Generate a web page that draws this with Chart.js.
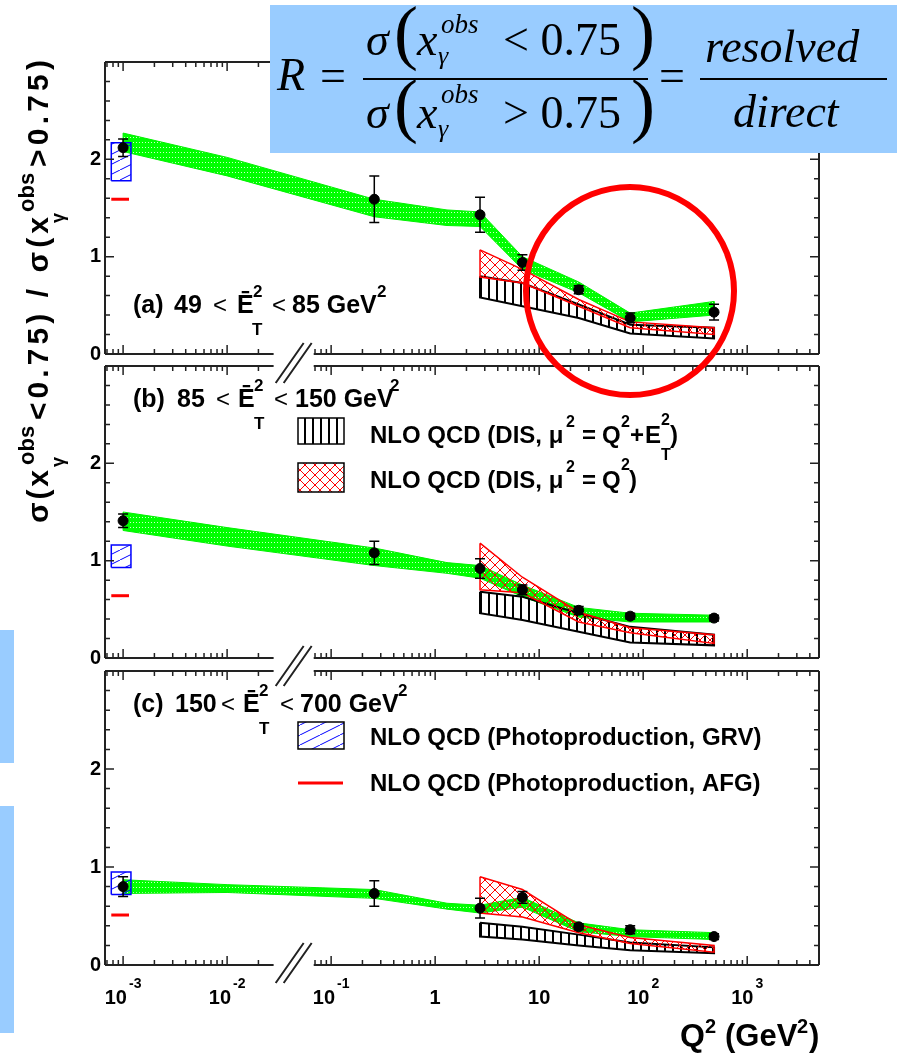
<!DOCTYPE html>
<html>
<head>
<meta charset="utf-8">
<script src="https://cdn.jsdelivr.net/npm/chart.js@4.4.1/dist/chart.umd.min.js"></script>
<style>
  body { margin: 0; background: #fff; width: 897px; height: 1057px; position: relative; overflow: hidden; }
  canvas.panel { position: absolute; left: 0; }
  #overlay { position: absolute; left: 0; top: 0; pointer-events: none; }
</style>
</head>
<body>
<canvas id="pa" class="panel" width="897" height="360" style="top:30px"></canvas>
<canvas id="pb" class="panel" width="897" height="350" style="top:340px"></canvas>
<canvas id="pc" class="panel" width="897" height="412" style="top:645px"></canvas>

<svg id="overlay" width="897" height="1057">
  <!-- light blue slide strips on the left -->
  <rect x="0" y="630" width="14" height="133" fill="#99ccff"/>
  <rect x="0" y="806" width="14" height="227" fill="#99ccff"/>

  <!-- y axis title -->
  <g transform="translate(48,523) rotate(-90)" font-family="Liberation Sans, Arial, sans-serif" font-weight="bold" font-size="30" fill="#000">
    <text x="0" y="0" textLength="53" lengthAdjust="spacing">σ(x</text>
    <text x="58" y="-14" font-size="22">obs</text>
    <text x="56" y="16" font-size="18">γ</text>
    <text x="103" y="0" textLength="203" lengthAdjust="spacing">&lt;0.75) / σ(x</text>
    <text x="311" y="-14" font-size="22">obs</text>
    <text x="300" y="16" font-size="18">γ</text>
    <text x="356" y="0" textLength="107" lengthAdjust="spacing">&gt;0.75)</text>
  </g>

  <!-- formula box -->
  <rect x="270" y="5" width="627" height="148" fill="#99ccff"/>
  <g font-family="Liberation Serif, Times New Roman, serif" font-size="46" fill="#000">
    <text x="277" y="90" font-style="italic">R</text>
    <text x="320" y="91">=</text>
    <line x1="363" y1="79" x2="648" y2="79" stroke="#000" stroke-width="2"/>
    <text x="366" y="55" font-style="italic">σ</text>
    <text x="394" y="56" font-size="72">(</text>
    <text x="417" y="55" font-style="italic">x</text>
    <text x="441" y="33" font-size="27" font-style="italic">obs</text>
    <text x="438" y="64" font-size="26" font-style="italic">γ</text>
    <text x="503" y="55">&lt; 0.75</text>
    <text x="631" y="56" font-size="72">)</text>
    <text x="366" y="128" font-style="italic">σ</text>
    <text x="394" y="129" font-size="72">(</text>
    <text x="417" y="128" font-style="italic">x</text>
    <text x="441" y="103" font-size="27" font-style="italic">obs</text>
    <text x="438" y="137" font-size="26" font-style="italic">γ</text>
    <text x="503" y="128">&gt; 0.75</text>
    <text x="631" y="129" font-size="72">)</text>
    <text x="659" y="91">=</text>
    <line x1="700" y1="79" x2="887" y2="79" stroke="#000" stroke-width="2"/>
    <text x="705" y="62" font-style="italic">resolved</text>
    <text x="733" y="127" font-style="italic">direct</text>
  </g>

  <!-- red circle -->
  <circle cx="630" cy="291" r="104" fill="none" stroke="#ff0000" stroke-width="6"/>
</svg>

<script>
Chart.defaults.font.family = '"Liberation Sans", Arial, sans-serif';
Chart.defaults.color = '#000';

// axis range (log Q2) and the broken part of the axis
const xMin = 6.7e-4, xMax = 4.9e3;
const breakLo = 0.028, breakHi = 0.068;

// measured points (Q2 in GeV2), same bins in every panel
const qPts = [0.001, 0.26, 2.7, 6.9, 24, 75, 480];
const ratioA = [2.12, 1.59, 1.43, 0.94, 0.66, 0.37, 0.43];
const errA = [0.09, 0.24, 0.18, 0.08, 0.04, 0.05, 0.08];
const ratioB = [1.41, 1.08, 0.92, 0.70, 0.49, 0.43, 0.41];
const errB = [0.07, 0.12, 0.1, 0.05, 0.04, 0.03, 0.03];
const ratioC = [0.80, 0.73, 0.58, 0.69, 0.39, 0.36, 0.29];
const errC = [0.1, 0.13, 0.1, 0.06, 0.03, 0.04, 0.03];

// green band (data-like band)
const greenQ = [0.001, 0.01, 0.26, 1.3, 2.7, 6.9, 24, 75, 480];
const greenLoA = [2.08, 1.83, 1.41, 1.32, 1.31, 0.87, 0.63, 0.33, 0.40];
const greenHiA = [2.27, 2.02, 1.59, 1.48, 1.46, 1.00, 0.74, 0.42, 0.54];
const greenLoB = [1.31, 1.15, 0.95, 0.87, 0.82, 0.63, 0.42, 0.37, 0.37];
const greenHiB = [1.50, 1.34, 1.13, 0.98, 0.95, 0.75, 0.52, 0.46, 0.44];
const greenLoC = [0.73, 0.74, 0.68, 0.57, 0.53, 0.59, 0.34, 0.29, 0.26];
const greenHiC = [0.87, 0.82, 0.77, 0.63, 0.61, 0.69, 0.43, 0.36, 0.33];

// NLO DIS bands
const nloQ = [2.7, 6.9, 24, 75, 480];
const redLoA = [0.79, 0.73, 0.49, 0.27, 0.20];
const redHiA = [1.07, 0.87, 0.56, 0.33, 0.27];
const blackLoA = [0.58, 0.49, 0.37, 0.21, 0.16];
const blackHiA = [0.80, 0.73, 0.51, 0.30, 0.27];
const redLoB = [0.70, 0.67, 0.37, 0.26, 0.15];
const redHiB = [1.18, 0.83, 0.47, 0.31, 0.24];
const blackLoB = [0.46, 0.39, 0.27, 0.16, 0.13];
const blackHiB = [0.68, 0.63, 0.46, 0.32, 0.24];
const redLoC = [0.53, 0.49, 0.33, 0.22, 0.13];
const redHiC = [0.90, 0.77, 0.41, 0.28, 0.20];
const blackLoC = [0.29, 0.26, 0.20, 0.15, 0.12];
const blackHiC = [0.43, 0.39, 0.31, 0.23, 0.18];

// photoproduction predictions, drawn at Q2 ~ 1e-3
const grvQ = [7.7e-4, 1.19e-3];
const afgQ = [7.7e-4, 1.14e-3];
const grvA = [1.78, 2.17], grvB = [0.93, 1.16], grvC = [0.72, 0.95];
const afgA = 1.59, afgB = 0.64, afgC = 0.51;

// fill patterns
function tile(w, h, paint) {
  const c = document.createElement('canvas');
  c.width = w; c.height = h;
  const g = c.getContext('2d');
  paint(g);
  return g.createPattern(c, 'repeat');
}
const greenFill = tile(6, 5, g => {
  g.fillStyle = '#00ff00'; g.fillRect(0, 0, 6, 5);
  g.fillStyle = 'rgba(255,255,255,0.8)'; g.fillRect(1, 2, 1, 1); g.fillRect(4, 2, 1, 1);
});
const blackHatch = tile(8, 8, g => { g.fillStyle = '#000'; g.fillRect(0, 0, 2, 8); });
const redHatch = tile(10, 10, g => {
  g.strokeStyle = '#ff0000'; g.lineWidth = 1;
  g.beginPath(); g.moveTo(0, 0); g.lineTo(10, 10); g.moveTo(10, 0); g.lineTo(0, 10); g.stroke();
});
const blueHatch = tile(20, 10, g => {
  g.strokeStyle = '#0000ff'; g.lineWidth = 1;
  g.beginPath(); g.moveTo(0, 10); g.lineTo(20, 0); g.stroke();
});
const fills = { black: blackHatch, red: redHatch, blue: blueHatch };

// closed outline: upper edge forward, lower edge back
function poly(xs, lo, hi) {
  const pts = xs.map((x, i) => ({ x, y: hi[i] }));
  for (let i = xs.length - 1; i >= 0; i--) pts.push({ x: xs[i], y: lo[i] });
  pts.push(pts[0]);
  return pts;
}
function box(xs, ys) {
  return [{ x: xs[0], y: ys[0] }, { x: xs[0], y: ys[1] }, { x: xs[1], y: ys[1] },
          { x: xs[1], y: ys[0] }, { x: xs[0], y: ys[0] }];
}

function txt(ctx, s, x, y, size, weight) {
  ctx.font = (weight || 'bold') + ' ' + size + 'px "Liberation Sans", Arial, sans-serif';
  ctx.fillText(s, x, y);
}

// frame, inward ticks, axis break, error bars and the text of each panel
const framePlugin = {
  id: 'frame',
  afterDatasetsDraw(chart) {
    const ctx = chart.ctx, ys = chart.scales.y;
    chart.data.datasets.forEach((ds, i) => {
      if (!ds.errs) return;
      const meta = chart.getDatasetMeta(i);
      ctx.save();
      ctx.strokeStyle = '#000';
      ctx.lineWidth = 1.5;
      meta.data.forEach((pt, j) => {
        const v = ds.data[j].y, e = ds.errs[j];
        const y1 = ys.getPixelForValue(v + e), y2 = ys.getPixelForValue(v - e);
        ctx.beginPath();
        ctx.moveTo(pt.x, y1); ctx.lineTo(pt.x, y2);
        ctx.moveTo(pt.x - 5, y1); ctx.lineTo(pt.x + 5, y1);
        ctx.moveTo(pt.x - 5, y2); ctx.lineTo(pt.x + 5, y2);
        ctx.stroke();
      });
      ctx.restore();
    });
  },
  afterDraw(chart, args, opts) {
    const ctx = chart.ctx;
    const { left, right, top, bottom } = chart.chartArea;
    const xs = chart.scales.x, ys = chart.scales.y;
    const g1 = xs.getPixelForValue(breakLo), g2 = xs.getPixelForValue(breakHi);
    const oy = opts.oy;
    ctx.save();
    ctx.strokeStyle = '#222';
    ctx.lineWidth = 2;
    ctx.beginPath();
    ctx.moveTo(left, top); ctx.lineTo(left, bottom);
    ctx.moveTo(right, top); ctx.lineTo(right, bottom);
    [top, bottom].forEach(y => {
      ctx.moveTo(left, y); ctx.lineTo(g1, y);
      ctx.moveTo(g2, y); ctx.lineTo(right, y);
    });
    ctx.stroke();

    // ticks pointing inside
    ctx.lineWidth = 1.5;
    ctx.beginPath();
    for (let d = -4; d <= 4; d++) {
      for (let m = 1; m <= 9; m++) {
        const v = m * Math.pow(10, d);
        if (v < xMin || v > xMax || (v > breakLo && v < breakHi)) continue;
        const px = xs.getPixelForValue(v), len = m === 1 ? 9 : 5;
        ctx.moveTo(px, bottom); ctx.lineTo(px, bottom - len);
        ctx.moveTo(px, top); ctx.lineTo(px, top + len);
      }
    }
    for (let k = 0; k <= 15; k++) {
      const py = ys.getPixelForValue(k * 0.2), len = k % 5 === 0 ? 9 : 5;
      ctx.moveTo(left, py); ctx.lineTo(left + len, py);
      ctx.moveTo(right, py); ctx.lineTo(right - len, py);
    }
    ctx.stroke();

    // the "//" break mark
    const cx = (g1 + g2) / 2, cy = opts.breakY - oy;
    ctx.lineWidth = 2;
    ctx.beginPath();
    [-4, 4].forEach(o => {
      ctx.moveTo(cx - 14 + o, cy + 20); ctx.lineTo(cx + 14 + o, cy - 20);
    });
    ctx.stroke();

    // legend swatches
    (opts.swatches || []).forEach(s => {
      ctx.fillStyle = '#fff';
      ctx.fillRect(s.x, s.y - oy, s.w, s.h);
      ctx.fillStyle = fills[s.fill];
      ctx.fillRect(s.x, s.y - oy, s.w, s.h);
      ctx.strokeStyle = '#000';
      ctx.lineWidth = 1.5;
      ctx.strokeRect(s.x, s.y - oy, s.w, s.h);
    });
    if (opts.redLine) {
      ctx.strokeStyle = '#ff0000';
      ctx.lineWidth = 3;
      ctx.beginPath();
      ctx.moveTo(opts.redLine[0], opts.redLine[2] - oy);
      ctx.lineTo(opts.redLine[1], opts.redLine[2] - oy);
      ctx.stroke();
    }

    // texts
    ctx.fillStyle = '#000';
    ctx.textBaseline = 'alphabetic';
    ctx.textAlign = 'left';
    (opts.texts || []).forEach(t => txt(ctx, t[0], t[1], t[2] - oy, t[3], t[4]));

    // x tick labels on the bottom panel
    if (opts.xLabels) {
      opts.xLabels.forEach(l => {
        ctx.font = 'bold 20px "Liberation Sans", Arial, sans-serif';
        const wb = ctx.measureText(l[1]).width;
        ctx.font = 'bold 14px "Liberation Sans", Arial, sans-serif';
        const we = l[2] ? ctx.measureText(l[2]).width + 2 : 0;
        const x0 = xs.getPixelForValue(l[0]) - (wb + we) / 2;
        txt(ctx, l[1], x0, 1004 - oy, 20);
        if (l[2]) txt(ctx, l[2], x0 + wb + 2, 988 - oy, 14);
      });
      txt(ctx, 'Q', 680, 1046 - oy, 32);
      txt(ctx, '2', 705, 1033 - oy, 20);
      txt(ctx, '(GeV', 725, 1046 - oy, 31);
      txt(ctx, '2', 797, 1033 - oy, 20);
      txt(ctx, ')', 809, 1046 - oy, 31);
    }
    ctx.restore();
  }
};

function panel(id, d, layout, deco) {
  return new Chart(document.getElementById(id), {
    type: 'scatter',
    data: {
      datasets: [
        { data: poly(greenQ, d.gLo, d.gHi), showLine: true, fill: 'shape', backgroundColor: greenFill,
          borderColor: '#00f000', borderWidth: 1, pointRadius: 0, order: 5 },
        { data: poly(nloQ, d.kLo, d.kHi), showLine: true, fill: 'shape', backgroundColor: blackHatch,
          borderColor: '#000', borderWidth: 2, pointRadius: 0, order: 4 },
        { data: poly(nloQ, d.rLo, d.rHi), showLine: true, fill: 'shape', backgroundColor: redHatch,
          borderColor: '#ff0000', borderWidth: 1.5, pointRadius: 0, order: 3 },
        { data: box(grvQ, d.grv), showLine: true, fill: 'shape', backgroundColor: blueHatch,
          borderColor: '#0000ff', borderWidth: 1.5, pointRadius: 0, order: 2 },
        { data: [{ x: afgQ[0], y: d.afg }, { x: afgQ[1], y: d.afg }], showLine: true, fill: false,
          borderColor: '#ff0000', borderWidth: 3, pointRadius: 0, order: 2 },
        { data: qPts.map((x, i) => ({ x, y: d.r[i] })), errs: d.e, pointRadius: 5,
          backgroundColor: '#000', borderColor: '#000', order: 0 }
      ]
    },
    options: {
      responsive: false,
      animation: false,
      layout: { padding: { top: layout.top, bottom: layout.bottom, left: 0, right: 78 } },
      scales: {
        x: { type: 'logarithmic', min: xMin, max: xMax, display: false },
        y: {
          min: 0, max: 3,
          afterFit(scale) { scale.width = 105; },
          grid: { display: false, drawTicks: false },
          border: { display: false },
          ticks: {
            stepSize: 1, padding: 4,
            font: { size: 20, weight: 'bold' },
            callback: v => (v === 3 ? '' : v)
          }
        }
      },
      plugins: {
        legend: { display: false },
        tooltip: { enabled: false },
        frame: deco
      }
    },
    plugins: [framePlugin]
  });
}

const lt = (a, b, c) => [a, b, c, 24, 'normal'];

panel('pa',
  { r: ratioA, e: errA, gLo: greenLoA, gHi: greenHiA, rLo: redLoA, rHi: redHiA,
    kLo: blackLoA, kHi: blackHiA, grv: grvA, afg: afgA },
  { top: 32, bottom: 36 },
  { oy: 30, breakY: 363,
    texts: [['(a)', 133, 313, 25], ['49', 174, 313, 25], lt('<', 213, 313), ['Ē', 237, 313, 25],
            ['2', 253, 297, 17], ['T', 252, 335, 17], lt('<', 272, 313), ['85 GeV', 292, 313, 25],
            ['2', 377, 297, 17]] });

panel('pb',
  { r: ratioB, e: errB, gLo: greenLoB, gHi: greenHiB, rLo: redLoB, rHi: redHiB,
    kLo: blackLoB, kHi: blackHiB, grv: grvB, afg: afgB },
  { top: 26, bottom: 32 },
  { oy: 340, breakY: 666,
    swatches: [{ x: 298, y: 418, w: 46, h: 26, fill: 'black' }, { x: 298, y: 463, w: 46, h: 29, fill: 'red' }],
    texts: [['(b)', 133, 407, 25], ['85', 177, 407, 25], lt('<', 216, 407), ['Ē', 238, 407, 25],
            ['2', 254, 391, 17], ['T', 254, 429, 17], lt('<', 274, 407), ['150 GeV', 295, 407, 25],
            ['2', 390, 391, 17],
            ['NLO QCD (DIS, μ', 370, 443, 24], ['2', 566, 427, 16], ['=', 582, 443, 24], ['Q', 602, 443, 24],
            ['2', 621, 427, 16], ['+', 630, 443, 24], ['E', 645, 443, 24], ['2', 661, 425, 16],
            ['T', 661, 460, 16], [')', 670, 443, 24],
            ['NLO QCD (DIS, μ', 370, 488, 24], ['2', 566, 472, 16], ['=', 582, 488, 24], ['Q', 602, 488, 24],
            ['2', 621, 470, 16], [')', 629, 488, 24]] });

panel('pc',
  { r: ratioC, e: errC, gLo: greenLoC, gHi: greenHiC, rLo: redLoC, rHi: redHiC,
    kLo: blackLoC, kHi: blackHiC, grv: grvC, afg: afgC },
  { top: 26, bottom: 92 },
  { oy: 645, breakY: 963,
    swatches: [{ x: 298, y: 722, w: 46, h: 27, fill: 'blue' }],
    redLine: [298, 343, 783],
    texts: [['(c)', 133, 712, 25], ['150', 175, 712, 25], lt('<', 221, 712), ['Ē', 243, 712, 25],
            ['2', 259, 696, 17], ['T', 259, 734, 17], lt('<', 280, 712), ['700 GeV', 300, 712, 25],
            ['2', 398, 696, 17],
            ['NLO QCD (Photoproduction, GRV)', 370, 745, 24],
            ['NLO QCD (Photoproduction, AFG)', 370, 791, 24]],
    xLabels: [[1e-3, '10', '-3'], [1e-2, '10', '-2'], [1e-1, '10', '-1'], [1, '1', ''],
              [10, '10', ''], [100, '10', '2'], [1000, '10', '3']] });
</script>
</body>
</html>
